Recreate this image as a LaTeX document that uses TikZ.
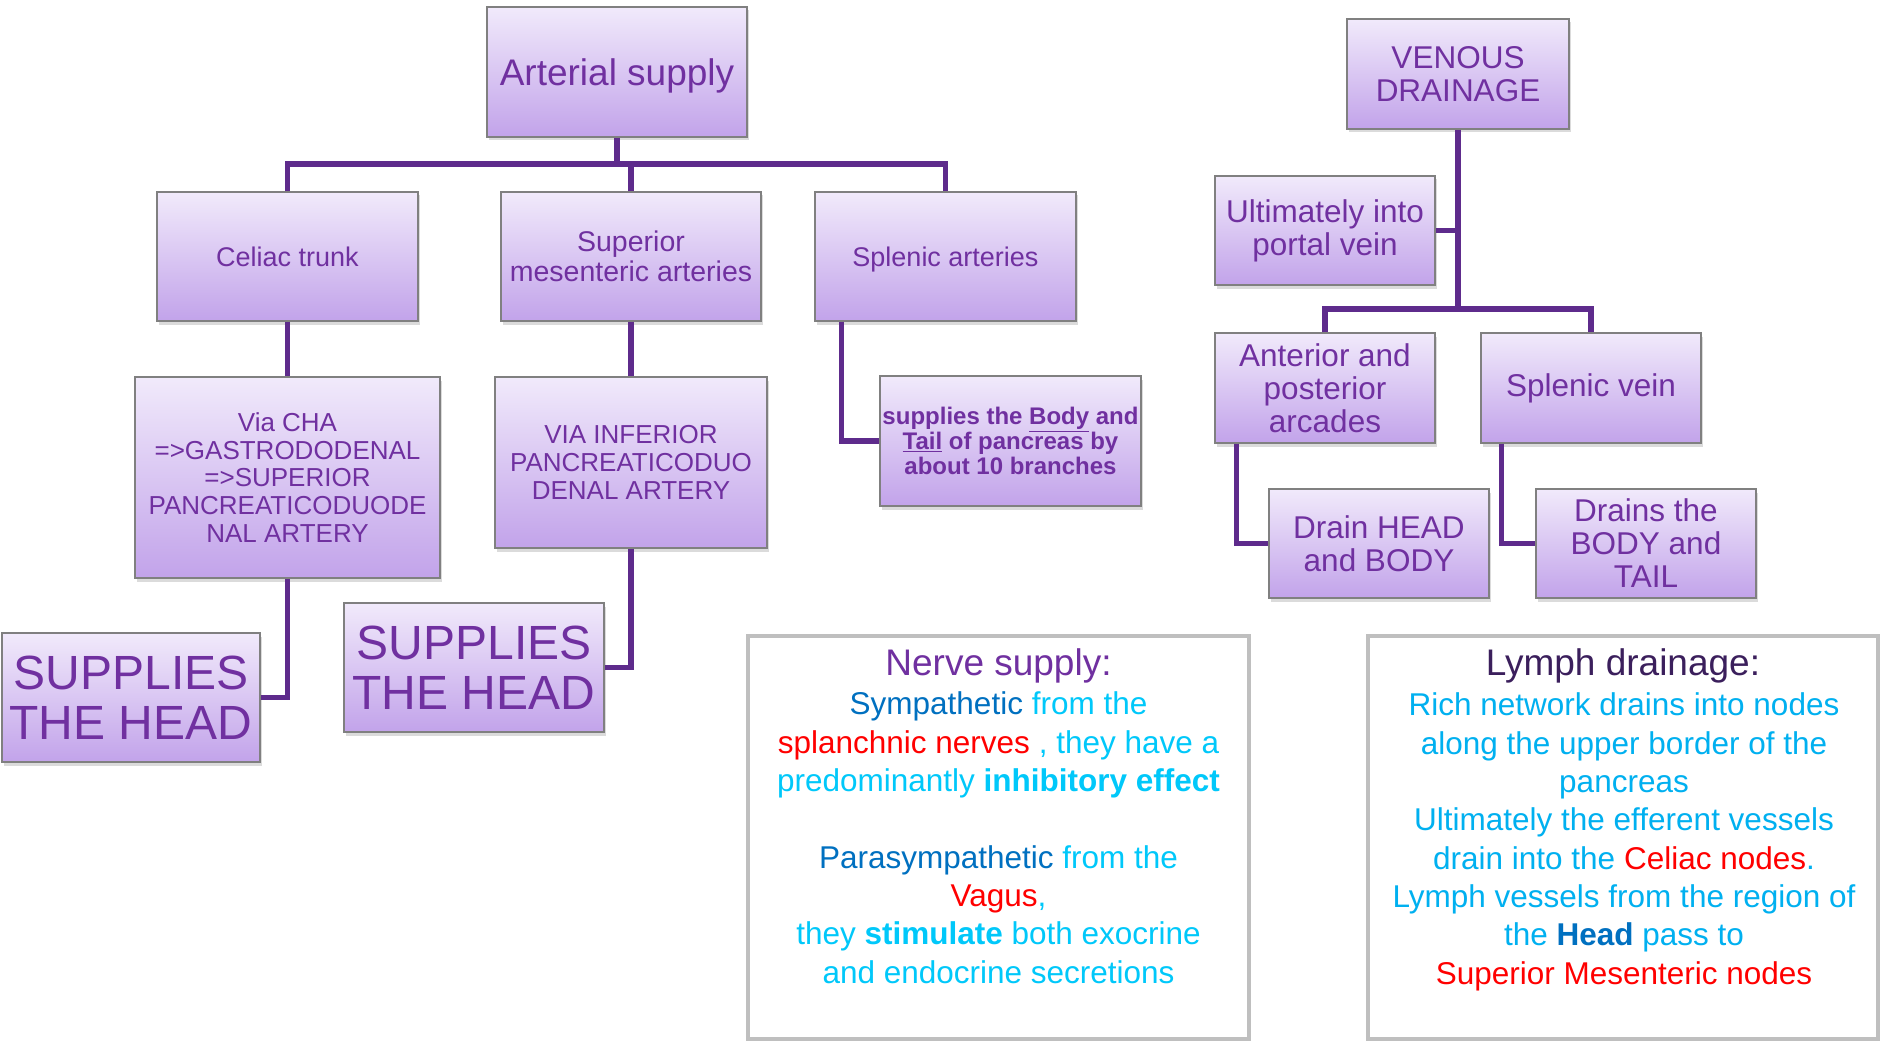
\documentclass[tikz,border=0pt]{standalone}
\usepackage{fontspec}
\setmainfont{Liberation Sans}
\usetikzlibrary{shadows,calc}
\definecolor{ptxt}{HTML}{7030A0}
\definecolor{ptop}{HTML}{F1EAFB}
\definecolor{pbot}{HTML}{C2A3EA}
\definecolor{boxline}{HTML}{808080}
\definecolor{lnk}{HTML}{5E2B8C}
\definecolor{greyframe}{HTML}{BFBFBF}
\definecolor{nblue}{HTML}{0070C0}
\definecolor{ncyan}{HTML}{00C8FA}
\definecolor{lcyan}{HTML}{00B0F0}
\definecolor{nred}{HTML}{FF0000}
\definecolor{ltitle}{HTML}{3B1F5C}
\begin{document}
\begin{tikzpicture}[x=1pt,y=-1pt,
  pbox/.style={draw=boxline, line width=1.2pt, top color=ptop, bottom color=pbot,
    text=ptxt, align=center, inner sep=0pt,
    drop shadow={opacity=0.28, shadow xshift=1.5pt, shadow yshift=-3.5pt}},
  conn/.style={draw=lnk, line width=5.5pt},
  frame/.style={draw=greyframe, line width=4pt, fill=white, inner sep=0pt},
  fA/.style={font=\fontsize{37}{42}\selectfont},
  fB/.style={font=\fontsize{27}{30}\selectfont},
  fBs/.style={font=\fontsize{28.5}{30}\selectfont},
  fC/.style={font=\fontsize{26}{27.7}\selectfont},
  fD/.style={font=\fontsize{48}{50}\selectfont},
  fE/.style={font=\bfseries\fontsize{24}{25}\selectfont},
  fF/.style={font=\fontsize{31.5}{33}\selectfont}
]
\useasboundingbox (0,0) rectangle (1880,1043);
\fill[white] (0,0) rectangle (1880,1043);

% ---------- arterial supply ----------
\node[pbox, fA, text depth=0pt, minimum width=260pt, minimum height=130pt] (art) at (617,72) {Arterial supply};
\node[pbox, fB, minimum width=261pt, minimum height=129pt] (cel) at (287.5,256.5) {Celiac trunk};
\node[pbox, fBs, minimum width=260pt, minimum height=129pt] (sma) at (631,256.5) {Superior\\mesenteric arteries};
\node[pbox, fB, text depth=0pt, minimum width=261pt, minimum height=129pt] (spl) at (945.5,256.5) {Splenic arteries};
\node[pbox, fC, minimum width=305pt, minimum height=201pt] (cha) at (287.5,477.5) {Via CHA\\=>GASTRODODENAL\\=>SUPERIOR\\PANCREATICODUODE\\NAL ARTERY};
\node[pbox, fC, minimum width=272pt, minimum height=171pt] (inf) at (631,462.5) {VIA INFERIOR\\PANCREATICODUO\\DENAL ARTERY};
\node[pbox, fD, minimum width=258pt, minimum height=129pt] (head1) at (131,697.5) {SUPPLIES\\THE HEAD};
\node[pbox, fD, minimum width=260pt, minimum height=129pt] (head2) at (474,667.5) {SUPPLIES\\THE HEAD};
\node[pbox, fE, minimum width=261pt, minimum height=130pt] (body) at (1010.5,441) {supplies the \underline{Body} and\\\underline{Tail} of pancreas by\\about 10 branches};

\coordinate (bus) at (617,164);
\draw[conn] (art.south) -- (art.south |- bus);
\draw[conn] (cel.north) -- (cel.north |- bus) -| (spl.north);
\draw[conn] (sma.north) -- (sma.north |- bus);
\draw[conn] (cel.south) -- (cha.north);
\draw[conn] (cha.south) |- (head1.east);
\draw[conn] (sma.south) -- (inf.north);
\draw[conn] (inf.south) |- (head2.east);
\draw[conn] ($(spl.south west)+(27,0)$) |- (body.west);

% ---------- venous drainage ----------
\node[pbox, fF, minimum width=222pt, minimum height=110pt] (ven) at (1458,74) {VENOUS\\DRAINAGE};
\node[pbox, fF, minimum width=220pt, minimum height=109pt] (por) at (1325,230.5) {Ultimately into\\portal vein};
\node[pbox, fF, minimum width=220pt, minimum height=110pt] (ant) at (1325,388) {Anterior and\\posterior\\arcades};
\node[pbox, fF, minimum width=220pt, minimum height=110pt] (sv) at (1591,388) {Splenic vein};
\node[pbox, fF, minimum width=220pt, minimum height=109pt] (dh) at (1379,543.5) {Drain HEAD\\and BODY};
\node[pbox, fF, minimum width=220pt, minimum height=109pt] (db) at (1646,543.5) {Drains the\\BODY and\\TAIL};

\coordinate (vbus) at (1458,309);
\draw[conn] (ven.south) -- (vbus);
\draw[conn] (por.east) -- (por.east -| ven.south);
\draw[conn] (ant.north) -- (ant.north |- vbus) -| (sv.north);
\draw[conn] ($(ant.south west)+(22,0)$) |- (dh.west);
\draw[conn] ($(sv.south west)+(21,0)$) |- (db.west);

% ---------- nerve supply ----------
\node[frame, minimum width=501pt, minimum height=403pt] (nerve) at (998.5,837.5) {};
\node[anchor=base, text=ptxt, font=\fontsize{37}{40}\selectfont] (nerveT) at (998.5,675) {Nerve supply:};
\node[align=center, inner sep=0pt, font=\fontsize{31.5}{38.3}\selectfont] (nerveB) at (998.5,841.3)
{\strut\textcolor{nblue}{Sympathetic} \textcolor{ncyan}{from the}\\
\textcolor{nred}{splanchnic nerves} \textcolor{ncyan}{, they have a}\\
\textcolor{ncyan}{predominantly \textbf{inhibitory effect}}\\[38.3pt]
\textcolor{nblue}{Parasympathetic} \textcolor{ncyan}{from the}\\
\textcolor{nred}{Vagus}\textcolor{ncyan}{,}\\
\textcolor{ncyan}{they \textbf{stimulate} both exocrine}\\
\textcolor{ncyan}{and endocrine secretions}\strut};

% ---------- lymph drainage ----------
\node[frame, minimum width=510pt, minimum height=403pt] (lymph) at (1623,837.5) {};
\node[anchor=base, text=ltitle, font=\fontsize{37}{40}\selectfont] (lymphT) at (1623,675) {Lymph drainage:};
\node[align=center, inner sep=0pt, text=lcyan, font=\fontsize{31.5}{38.3}\selectfont] (lymphB) at (1624,842.3)
{\strut Rich network drains into nodes\\
along the upper border of the\\
pancreas\\
Ultimately the efferent vessels\\
drain into the \textcolor{nred}{Celiac nodes}.\\
Lymph vessels from the region of\\
the \textcolor{nblue}{\textbf{Head}} pass to\\
\textcolor{nred}{Superior Mesenteric nodes}\strut};
\end{tikzpicture}
\end{document}
